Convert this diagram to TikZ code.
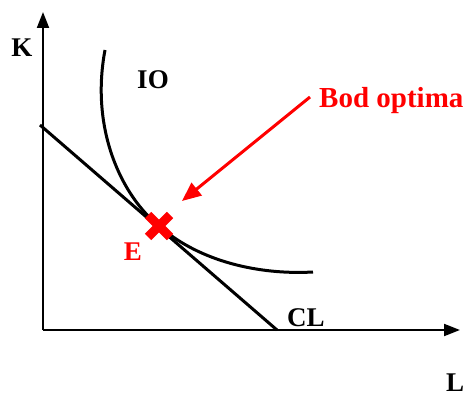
\documentclass[tikz,border=0pt]{standalone}
\usepackage{fontspec}
\setmainfont{Liberation Serif}
\usetikzlibrary{arrows.meta,calc}
\begin{document}
\begin{tikzpicture}[x=1pt,y=-1pt,
  lbl/.style={font=\fontsize{27}{29}\selectfont\bfseries, inner sep=0pt},
  redlbl/.style={lbl, text=red},
  axis/.style={line width=2pt, -{Triangle[length=16pt,width=12pt]}},
  curve/.style={line width=3pt},
  crossbar/.style={red, line width=9pt}]
\useasboundingbox (0,0) rectangle (466,398);
\coordinate (O) at (43,330);
\coordinate (Ktip) at (43,12);
\coordinate (Ltip) at (460,330);
\draw[axis] (O) -- (Ktip);
\draw[axis] (O) -- (Ltip);
\coordinate (B1) at (40,125);
\coordinate (B2) at (277,330);
\draw[curve] (B1) -- (B2);
\coordinate (IOa) at (105,50);
\coordinate (Ept) at (159,226);
\coordinate (IOb) at (313,272);
\draw[curve] (IOa) .. controls (90,130) and (122,196) .. (Ept)
  .. controls (200,262) and (260,275) .. (IOb);
\node[lbl] (K) at (22,48) {K};
\node[lbl] (L) at (455,383) {L};
\node[lbl] (IO) at (153,80) {IO};
\node[lbl] (CL) at (306,318) {CL};
\node[redlbl] (E) at (133,252) {E};
\node[redlbl, font=\fontsize{29}{31}\selectfont\bfseries, anchor=west] (bod) at (319,101) {Bod optima};
\coordinate (Aend) at (310,97);
\coordinate (Atip) at (182,201);
\draw[red, line width=3pt, -{Triangle[length=19pt,width=16pt]}] (Aend) -- (Atip);
\draw[crossbar] ($(Ept)+(-11,-11)$) -- ($(Ept)+(11,11)$);
\draw[crossbar] ($(Ept)+(-11,11)$) -- ($(Ept)+(11,-11)$);
\end{tikzpicture}
\end{document}
